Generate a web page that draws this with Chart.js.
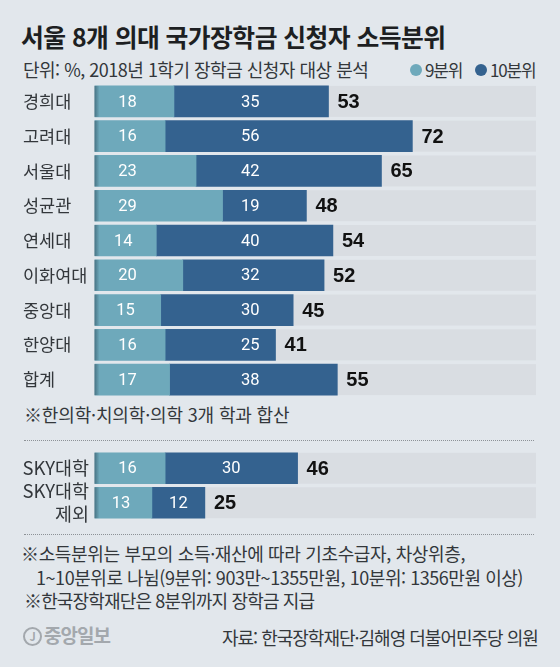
<!DOCTYPE html>
<html lang="ko">
<head>
<meta charset="utf-8">
<script src="https://cdn.jsdelivr.net/npm/chart.js@4"></script>
<style>
  html,body{margin:0;padding:0;background:#e2e7ec;}
  body{width:560px;height:667px;position:relative;overflow:hidden;font-family:"Noto Sans CJK KR","Noto Sans",sans-serif;color:#2a2d30;}
  .t{position:absolute;white-space:nowrap;line-height:1;}
  .n{font-size:18px;letter-spacing:-0.5px;color:#33373b;}
  .dot{position:absolute;width:12px;height:12px;border-radius:50%;}
  .rule{position:absolute;left:24px;width:510px;border-top:1px dotted #8d9297;}
  canvas{position:absolute;left:0;}
</style>
</head>
<body>
<div class="t" style="left:21px;top:24px;font-size:24.8px;font-weight:700;letter-spacing:-0.55px;color:#1d1f22">서울 8개 의대 국가장학금 신청자 소득분위</div>
<div class="t n" style="left:23px;top:60px">단위: %, 2018년 1학기 장학금 신청자 대상 분석</div>
<div class="dot" style="left:410px;top:64px;background:#6ea9bb"></div>
<div class="t n" style="left:425px;top:61px;font-size:17px;letter-spacing:-1.2px">9분위</div>
<div class="dot" style="left:475px;top:64px;background:#34628f"></div>
<div class="t n" style="left:490px;top:61px;font-size:17px;letter-spacing:-1.2px">10분위</div>

<canvas id="mainChart"></canvas>
<div class="t n" style="left:24px;top:405px;letter-spacing:-0.15px">※한의학·치의학·의학 3개 학과 합산</div>
<div class="rule" style="top:440px"></div>
<canvas id="skyChart"></canvas>
<div class="rule" style="top:534px"></div>

<div class="t n" style="left:21px;top:544px;letter-spacing:-0.35px">※소득분위는 부모의 소득·재산에 따라 기초수급자, 차상위층,</div>
<div class="t n" style="left:36px;top:568px;letter-spacing:-0.45px">1~10분위로 나뉨(9분위: 903만~1355만원, 10분위: 1356만원 이상)</div>
<div class="t n" style="left:24px;top:591px;letter-spacing:-0.85px">※한국장학재단은 8분위까지 장학금 지급</div>
<div class="t" style="left:23px;top:627px;width:15px;height:15px;border:2.5px solid #a3a8ad;border-radius:50%;font-size:11px;line-height:15px;text-align:center;color:#a3a8ad;font-weight:700">J</div>
<div class="t" style="left:44px;top:625px;font-size:19px;font-weight:700;letter-spacing:-1px;color:#a3a8ad">중앙일보</div>
<div class="t n" style="left:222px;top:628px;letter-spacing:-1px">자료: 한국장학재단·김해영 더불어민주당 의원</div>

<script>
const categories = ['경희대','고려대','서울대','성균관','연세대','이화여대','중앙대','한양대','합계'];
const decile9 = [18,16,23,29,14,20,15,16,17];
const decile10 = [35,56,42,19,40,32,30,25,38];
const totals = [53,72,65,48,54,52,45,41,55];

const skyCategories = ['SKY대학',['SKY대학','제외']];
const skyDecile9 = [16,13];
const skyDecile10 = [30,12];
const skyTotals = [46,25];

const LIGHT = '#6ea9bb', DARK = '#34628f', TRACK = '#d9dde2';
const FONT = '"Noto Sans CJK KR","Noto Sans",sans-serif';

// grey track behind the bars, numbers on top of them
const barExtras = {
  id:'barExtras',
  beforeDatasetsDraw(chart){
    const {ctx, scales:{x,y}} = chart;
    const h = chart.getDatasetMeta(0).data[0].height;
    ctx.save();
    ctx.fillStyle = TRACK;
    y.ticks.forEach((t,i)=>{
      ctx.fillRect(x.getPixelForValue(0), y.getPixelForTick(i)-h/2, x.getPixelForValue(100)-x.getPixelForValue(0), h);
    });
    ctx.restore();
  },
  afterDatasetsDraw(chart, args, opts){
    const {ctx, scales:{x,y}} = chart;
    const [light, dark] = chart.data.datasets;
    ctx.save();
    ctx.textBaseline = 'middle';
    light.data.forEach((v,i)=>{
      const cy = y.getPixelForTick(i);
      const h = chart.getDatasetMeta(0).data[i].height;
      // shadow on the left edge
      const g = ctx.createLinearGradient(x.getPixelForValue(0),0,x.getPixelForValue(0)+5,0);
      g.addColorStop(0,'rgba(40,70,85,.55)');
      g.addColorStop(1,'rgba(40,70,85,0)');
      ctx.fillStyle = g;
      ctx.fillRect(x.getPixelForValue(0), cy-h/2, 5, h);

      ctx.textAlign = 'center';
      ctx.fillStyle = '#fff';
      ctx.font = '16.5px Roboto';
      ctx.fillText(v, x.getPixelForValue(Math.min(7.5, v/2-0.5)), cy+1);
      const d = dark.data[i];
      ctx.fillText(d, x.getPixelForValue(opts.darkAt ?? v+d/2), cy+1);

      ctx.textAlign = 'left';
      ctx.fillStyle = '#111';
      ctx.font = '700 20px "Liberation Sans"';
      ctx.fillText(opts.totals[i], x.getPixelForValue(v+d)+9, cy+1);
    });
    ctx.restore();
  }
};

function drawBars(id, top, height, pad, labels, a, b, tot, align, fontSize, darkAt){
  const el = document.getElementById(id);
  el.style.top = top+'px';
  el.style.width = '560px';
  el.style.height = height+'px';
  el.width = 560; el.height = height;
  return new Chart(el, {
    type:'bar',
    data:{ labels, datasets:[
      { label:'9분위', data:a, backgroundColor:LIGHT, barThickness:31 },
      { label:'10분위', data:b, backgroundColor:DARK, barThickness:31 }
    ]},
    plugins:[barExtras],
    options:{
      indexAxis:'y', responsive:false, animation:false,
      layout:{ padding:{left:23,right:24,top:pad[0],bottom:pad[1]} },
      plugins:{ legend:{display:false}, tooltip:{enabled:false}, barExtras:{totals:tot, darkAt} },
      scales:{
        x:{ stacked:true, min:0, max:100, display:false },
        y:{ stacked:true, grid:{display:false,drawTicks:false}, border:{display:false},
            afterFit(s){ s.width = 71.5; s.paddingTop = 0; s.paddingBottom = 0; },
            ticks:{ crossAlign:align, padding:5.5, color:'#33373b', autoSkip:false,
                    font:{family:FONT,size:fontSize,lineHeight:1.25} } }
      }
    }
  });
}

drawBars('mainChart', 84, 313, [0,0], categories, decile9, decile10, totals, 'far', 17.5, 35.3);
drawBars('skyChart', 440, 92, [11,12], skyCategories, skyDecile9, skyDecile10, skyTotals, 'near', 18.5);
</script>
</body>
</html>
